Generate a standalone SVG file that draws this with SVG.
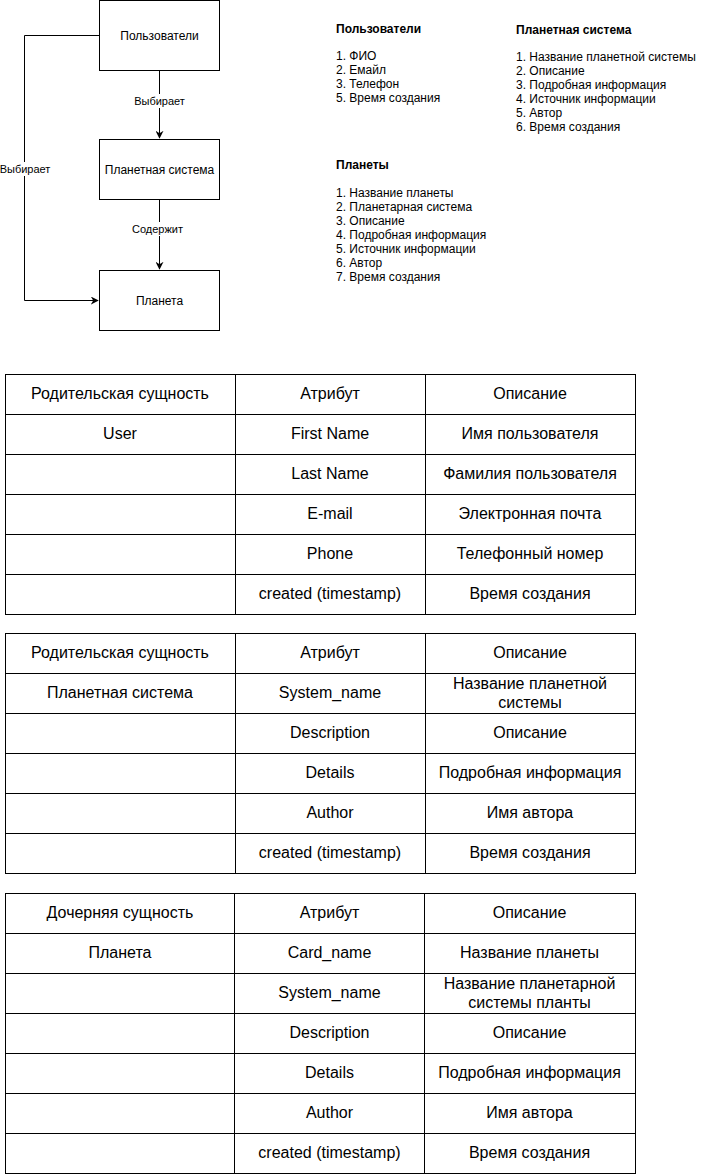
<svg xmlns="http://www.w3.org/2000/svg" width="725" height="1174" viewBox="0 0 725 1174">
<style>
text{font-family:"Liberation Sans",Arial,Helvetica,sans-serif;fill:#000}
.box{fill:#fff;stroke:#000;stroke-width:1}
.n{font-size:12px;text-anchor:middle}
.el{font-size:11px;text-anchor:middle}
.note{font-size:12px}
.b{font-weight:bold}
.cell{fill:#fff;stroke:#000;stroke-width:1}
.t{font-size:16px;text-anchor:middle}
.edge{fill:none;stroke:#000;stroke-width:1}
</style>
<defs>
<marker id="arr" viewBox="0 0 10 10" refX="9" refY="5" markerWidth="8" markerHeight="8" orient="auto" markerUnits="userSpaceOnUse">
<path d="M0,0 L10,5 L0,10 L3,5 Z" fill="#000"/>
</marker>
</defs>
<g id="connectors">
<path class="edge" d="M159.5,70.5 V138" marker-end="url(#arr)"/>
<rect x="131" y="94" width="57" height="14" fill="#fff"/>
<text class="el" x="159.5" y="105">Выбирает</text>
<path class="edge" d="M159.5,199 V269" marker-end="url(#arr)"/>
<rect x="129" y="222" width="60" height="14" fill="#fff"/>
<text class="el" x="157.5" y="233">Содержит</text>
<path class="edge" d="M99.5,35.5 H24.5 V300.5 H98" marker-end="url(#arr)"/>
<rect x="0" y="162" width="52" height="14" fill="#fff"/>
<text class="el" x="25" y="173">Выбирает</text>
</g>
<g id="node-users">
<rect class="box" x="99.5" y="0.5" width="120" height="70"/>
<text class="n" x="159.5" y="40">Пользователи</text>
</g>
<g id="node-system">
<rect class="box" x="99.5" y="139.5" width="120" height="60"/>
<text class="n" x="159.5" y="173.5">Планетная система</text>
</g>
<g id="node-planet">
<rect class="box" x="99.5" y="270.5" width="120" height="60"/>
<text class="n" x="159.5" y="304.5">Планета</text>
</g>
<g id="note-users">
<text class="note b" x="336" y="33">Пользователи</text>
<text class="note" x="336" y="60">1. ФИО</text>
<text class="note" x="336" y="74">2. Емайл</text>
<text class="note" x="336" y="88">3. Телефон</text>
<text class="note" x="336" y="102">5. Время создания</text>
</g>
<g id="note-system">
<text class="note b" x="516" y="34">Планетная система</text>
<text class="note" x="516" y="61">1. Название планетной системы</text>
<text class="note" x="516" y="75">2. Описание</text>
<text class="note" x="516" y="89">3. Подробная информация</text>
<text class="note" x="516" y="103">4. Источник информации</text>
<text class="note" x="516" y="117">5. Автор</text>
<text class="note" x="516" y="131">6. Время создания</text>
</g>
<g id="note-planets">
<text class="note b" x="336" y="169">Планеты</text>
<text class="note" x="336" y="197">1. Название планеты</text>
<text class="note" x="336" y="211">2. Планетарная система</text>
<text class="note" x="336" y="225">3. Описание</text>
<text class="note" x="336" y="239">4. Подробная информация</text>
<text class="note" x="336" y="253">5. Источник информации</text>
<text class="note" x="336" y="267">6. Автор</text>
<text class="note" x="336" y="281">7. Время создания</text>
</g>
<g id="table-users">
<rect class="cell" x="5.5" y="374.5" width="630" height="240"/>
<path class="edge" d="M235.5,374.5 V614.5 M425.5,374.5 V614.5 M5.5,414.5 H635.5 M5.5,454.5 H635.5 M5.5,494.5 H635.5 M5.5,534.5 H635.5 M5.5,574.5 H635.5"/>
<text class="t" x="120" y="399">Родительская сущность</text>
<text class="t" x="330" y="399">Атрибут</text>
<text class="t" x="530" y="399">Описание</text>
<text class="t" x="120" y="439">User</text>
<text class="t" x="330" y="439">First Name</text>
<text class="t" x="530" y="439">Имя пользователя</text>
<text class="t" x="330" y="479">Last Name</text>
<text class="t" x="530" y="479">Фамилия пользователя</text>
<text class="t" x="330" y="519">E-mail</text>
<text class="t" x="530" y="519">Электронная почта</text>
<text class="t" x="330" y="559">Phone</text>
<text class="t" x="530" y="559">Телефонный номер</text>
<text class="t" x="330" y="599">created (timestamp)</text>
<text class="t" x="530" y="599">Время создания</text>
</g>
<g id="table-system">
<rect class="cell" x="5.5" y="633.5" width="630" height="240"/>
<path class="edge" d="M235.5,633.5 V873.5 M425.5,633.5 V873.5 M5.5,673.5 H635.5 M5.5,713.5 H635.5 M5.5,753.5 H635.5 M5.5,793.5 H635.5 M5.5,833.5 H635.5"/>
<text class="t" x="120" y="658">Родительская сущность</text>
<text class="t" x="330" y="658">Атрибут</text>
<text class="t" x="530" y="658">Описание</text>
<text class="t" x="120" y="698">Планетная система</text>
<text class="t" x="330" y="698">System_name</text>
<text class="t" x="530" y="689">Название планетной</text>
<text class="t" x="530" y="708">системы</text>
<text class="t" x="330" y="738">Description</text>
<text class="t" x="530" y="738">Описание</text>
<text class="t" x="330" y="778">Details</text>
<text class="t" x="530" y="778">Подробная информация</text>
<text class="t" x="330" y="818">Author</text>
<text class="t" x="530" y="818">Имя автора</text>
<text class="t" x="330" y="858">created (timestamp)</text>
<text class="t" x="530" y="858">Время создания</text>
</g>
<g id="table-planet">
<rect class="cell" x="5.5" y="893.5" width="630" height="280"/>
<path class="edge" d="M234.5,893.5 V1173.5 M424.5,893.5 V1173.5 M5.5,933.5 H635.5 M5.5,973.5 H635.5 M5.5,1013.5 H635.5 M5.5,1053.5 H635.5 M5.5,1093.5 H635.5 M5.5,1133.5 H635.5"/>
<text class="t" x="120" y="918">Дочерняя сущность</text>
<text class="t" x="329.5" y="918">Атрибут</text>
<text class="t" x="529.5" y="918">Описание</text>
<text class="t" x="120" y="958">Планета</text>
<text class="t" x="329.5" y="958">Card_name</text>
<text class="t" x="529.5" y="958">Название планеты</text>
<text class="t" x="329.5" y="998">System_name</text>
<text class="t" x="529.5" y="989">Название планетарной</text>
<text class="t" x="529.5" y="1008">системы планты</text>
<text class="t" x="329.5" y="1038">Description</text>
<text class="t" x="529.5" y="1038">Описание</text>
<text class="t" x="329.5" y="1078">Details</text>
<text class="t" x="529.5" y="1078">Подробная информация</text>
<text class="t" x="329.5" y="1118">Author</text>
<text class="t" x="529.5" y="1118">Имя автора</text>
<text class="t" x="329.5" y="1158">created (timestamp)</text>
<text class="t" x="529.5" y="1158">Время создания</text>
</g>
</svg>
